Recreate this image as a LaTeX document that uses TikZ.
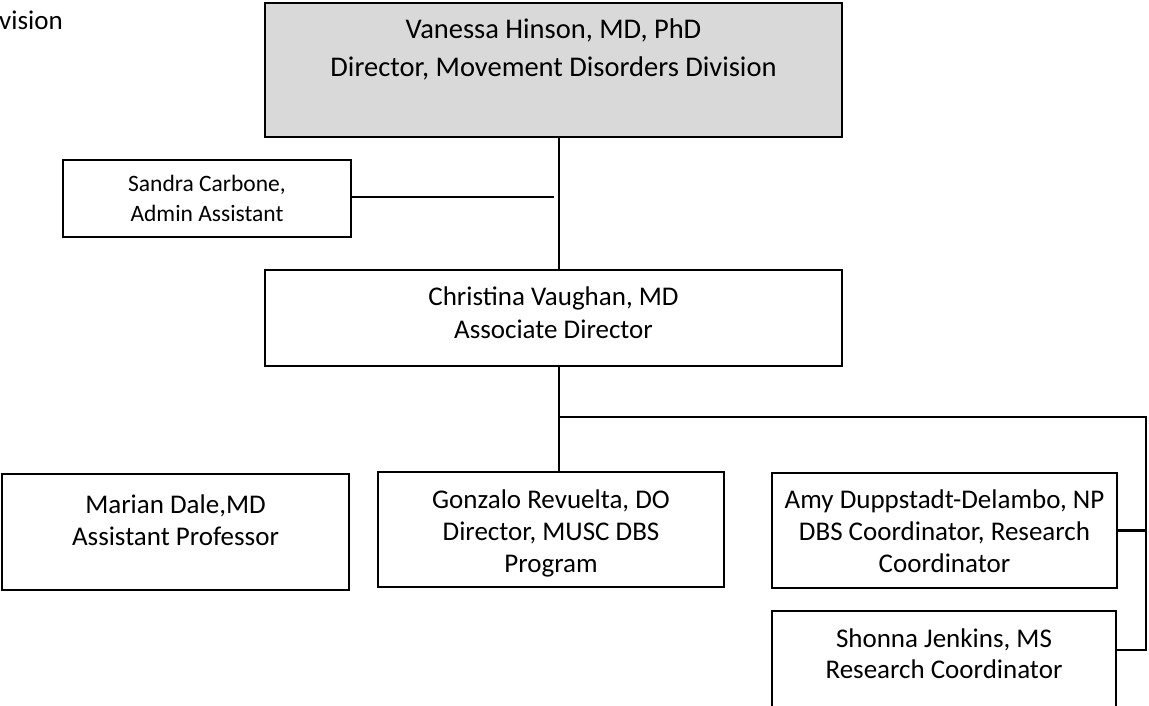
\documentclass[tikz,border=0pt]{standalone}
\usepackage{fontspec}
\setmainfont{Carlito}
\definecolor{topgray}{HTML}{D9D9D9}
\begin{document}
\begin{tikzpicture}[x=1pt,y=-1pt,
  box/.style={draw=black, line width=1.8pt, inner sep=0pt, fill=white},
  txt/.style={inner sep=0pt, anchor=base, font=\fontsize{27}{32}\selectfont},
  toptxt/.style={inner sep=0pt, anchor=base, font=\fontsize{28.5}{34}\selectfont},
  smalltxt/.style={inner sep=0pt, anchor=base, font=\fontsize{23.5}{28}\selectfont},
  conn/.style={draw=black, line width=2.4pt}]
\useasboundingbox (0,0) rectangle (1149,706);
\clip (0,0) rectangle (1149,706);

% boxes
\node[box, fill=topgray, minimum width=577pt, minimum height=134pt] (dir) at (553.5,70) {};
\node[box, minimum width=288pt, minimum height=77pt] (sandra) at (207,198.5) {};
\node[box, minimum width=577pt, minimum height=96pt] (assoc) at (553.5,318) {};
\node[box, minimum width=347pt, minimum height=116pt] (marian) at (175.5,532) {};
\node[box, minimum width=346pt, minimum height=115pt] (gonz) at (551,529.5) {};
\node[box, minimum width=345pt, minimum height=115pt] (amy) at (944.5,530.5) {};
\node[box, minimum width=344pt, minimum height=115pt] (shonna) at (944,668.5) {};

% texts
\node[txt, anchor=base west] (title) at (-1,30) {vision};
\node[toptxt] (dir1) at (553.5,39) {Vanessa Hinson, MD, PhD};
\node[toptxt] (dir2) at (553.5,77) {Director, Movement Disorders Division};
\node[smalltxt] (sandra1) at (207,192) {Sandra Carbone,};
\node[smalltxt] (sandra2) at (207,221) {Admin Assistant};
\node[txt] (assoc1) at (553.5,305) {Christina Vaughan, MD};
\node[txt] (assoc2) at (553.5,338) {Associate Director};
\node[txt] (marian1) at (175.5,513) {Marian Dale,MD};
\node[txt] (marian2) at (175.5,545) {Assistant Professor};
\node[txt] (gonz1) at (551,508) {Gonzalo Revuelta, DO};
\node[txt] (gonz2) at (551,540) {Director, MUSC DBS};
\node[txt] (gonz3) at (551,572) {Program};
\node[txt] (amy1) at (944.5,508) {Amy Duppstadt-Delambo, NP};
\node[txt] (amy2) at (944.5,540) {DBS Coordinator, Research};
\node[txt] (amy3) at (944.5,572) {Coordinator};
\node[txt] (shonna1) at (944,647) {Shonna Jenkins, MS};
\node[txt] (shonna2) at (944,678) {Research Coordinator};

% connectors
\coordinate (vx) at (559,0);
\coordinate (sgap) at (554,197);
\coordinate (hr) at (1146,417);
\coordinate (sj) at (1146,650);
\draw[conn] (dir.south -| vx) -- (assoc.north -| vx);
\draw[conn] (sandra.east |- sgap) -- (sgap);
\draw[conn] (assoc.south -| vx) -- (gonz.north -| vx);
\draw[conn] (vx |- hr) -- (hr) -- (sj) -- (shonna.east |- sj);
\draw[conn] (amy.east) -- (amy.east -| hr);
\end{tikzpicture}
\end{document}
